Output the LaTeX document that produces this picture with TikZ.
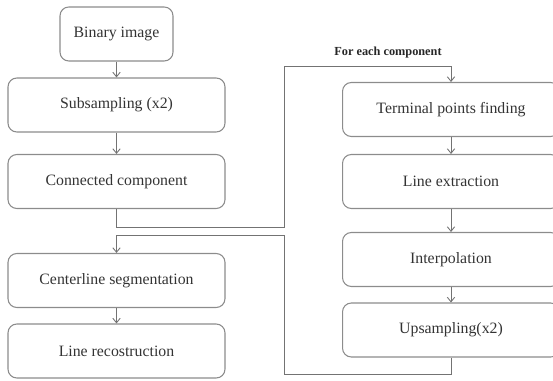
\documentclass[tikz,border=0pt]{standalone}
\usepackage{fontspec}
\setmainfont{Liberation Serif}
\usetikzlibrary{arrows.meta}

\begin{document}
\begin{tikzpicture}[x=0.02cm, y=-0.02cm,
    stage/.style={draw=black!45, line width=0.6pt, rounded corners=5pt,
        minimum width=4.34cm, minimum height=1.08cm, inner sep=0pt,
        text=black!80, font=\fontsize{9}{11}\selectfont},
    flow/.style={draw=black!55, line width=0.5pt,
        -{Straight Barb[length=2.6pt,width=4.2pt]}}]
			%%%%% START %%%%%
			
			\useasboundingbox (0,0) rectangle (553,381);
			\clip (0,0) rectangle (553,381);
			
			% main chain, left
			\node[stage, minimum width=2.26cm] (bin) at (116.5, 34) {Binary image};
			\node[stage] (sub)  at (116.5, 105)   {Subsampling (x2)};
			\node[stage] (conn) at (116.5, 181.5) {Connected component};
			\node[stage] (cen)  at (116.5, 280.5) {Centerline segmentation};
			\node[stage] (rec)  at (116.5, 351)   {Line recostruction};
			
			% per component chain, right
			\node[stage] (term)   at (451, 109.5) {Terminal points finding};
			\node[stage] (ext)    at (451, 181.5) {Line extraction};
			\node[stage] (interp) at (451, 259.5) {Interpolation};
			\node[stage] (up)     at (451, 330)   {Upsampling(x2)};
			
			\draw[flow] (bin) -- (sub);
			\draw[flow] (sub) -- (conn);
			\draw[flow] (cen) -- (rec);
			\draw[flow] (term) -- (ext);
			\draw[flow] (ext) -- (interp);
			\draw[flow] (interp) -- (up);
			
			% loop out to the right column and back
			\coordinate (outL) at (284, 227);
			\coordinate (outT) at (451, 66);
			\coordinate (backB) at (284, 374);
			\coordinate (backL) at (116.5, 235);
			
			\draw[flow] (conn.south) |- (outL) |- (outT) -- (term.north);
			\node[text=black!85, font=\fontsize{7}{8}\selectfont\bfseries, anchor=south]
				(each) at (388, 64) {For each component};
			
			\draw[flow] (up.south) |- (backB) |- (backL) -- (cen.north);
			
			%%%%% END %%%%%
\end{tikzpicture}
\end{document}
